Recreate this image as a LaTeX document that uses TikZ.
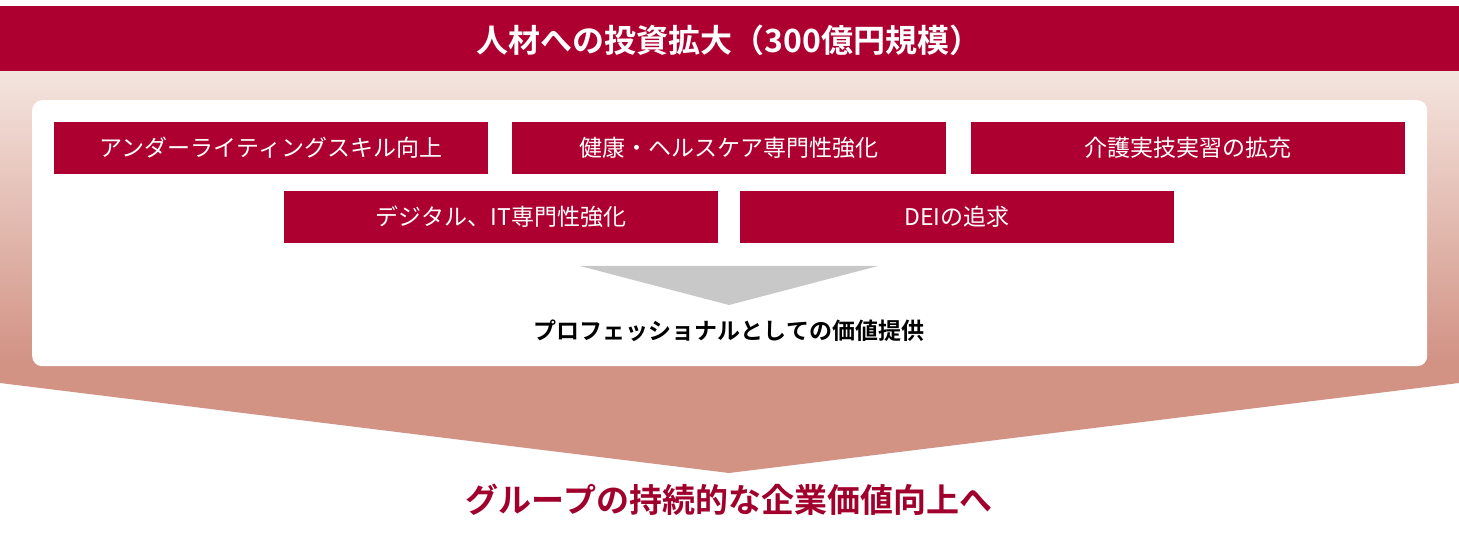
\documentclass[tikz,border=0pt]{standalone}
\usepackage{fontspec}
\newfontfamily\jpreg{Noto Sans CJK JP}
\newfontfamily\jpbold{Noto Sans CJK JP Bold}
\definecolor{banred}{HTML}{AE0030}
\definecolor{txtred}{HTML}{A1002C}
\definecolor{gradtop}{HTML}{F4E5DF}
\definecolor{gradbot}{HTML}{D29385}
\definecolor{arrgray}{HTML}{C8C8C8}
\tikzset{
  redbox/.style={fill=banred, text=white, minimum width=434pt, minimum height=52pt, inner sep=0pt, font=\jpreg\fontsize{23}{23}\selectfont},
}
\begin{document}
\begin{tikzpicture}[x=1pt,y=-1pt]
\useasboundingbox (0,0) rectangle (1459,534);
% gradient pentagon
\begin{scope}
\clip (0,70) -- (1459,70) -- (1459,383) -- (729,473) -- (0,383) -- cycle;
\shade[top color=gradtop, bottom color=gradbot] (0,70) rectangle (1459,360);
\fill[gradbot] (0,359) rectangle (1459,480);
\end{scope}
% banner
\node[fill=banred, minimum width=1459pt, minimum height=65pt, inner sep=0pt, anchor=north west] (banner) at (0,6) {};
\node[text=white, font=\jpbold\fontsize{32}{32}\selectfont] (title) at (729,40) {人材への投資拡大（300億円規模）};
% white panel
\node[fill=white, rounded corners=10pt, minimum width=1395pt, minimum height=266pt, inner sep=0pt, anchor=north west] (panel) at (32,100) {};
% red boxes
\node[redbox] (b1) at (271,148) {アンダーライティングスキル向上};
\node[redbox] (b2) at (729,148) {健康・ヘルスケア専門性強化};
\node[redbox] (b3) at (1187.5,148) {介護実技実習の拡充};
\node[redbox] (b4) at (501,217) {デジタル、IT専門性強化};
\node[redbox] (b5) at (957,217) {DEIの追求};
% gray triangle
\coordinate (tl) at (580,266);
\coordinate (tr) at (878,266);
\coordinate (tt) at (729,305);
\fill[arrgray] (tl) -- (tr) -- (tt) -- cycle;
\node[font=\jpbold\fontsize{23}{23}\selectfont, text=black] (prof) at (729,331) {プロフェッショナルとしての価値提供};
% bottom text
\node[font=\jpbold\fontsize{33}{33}\selectfont, text=txtred] (goal) at (729,500) {グループの持続的な企業価値向上へ};
\end{tikzpicture}
\end{document}
